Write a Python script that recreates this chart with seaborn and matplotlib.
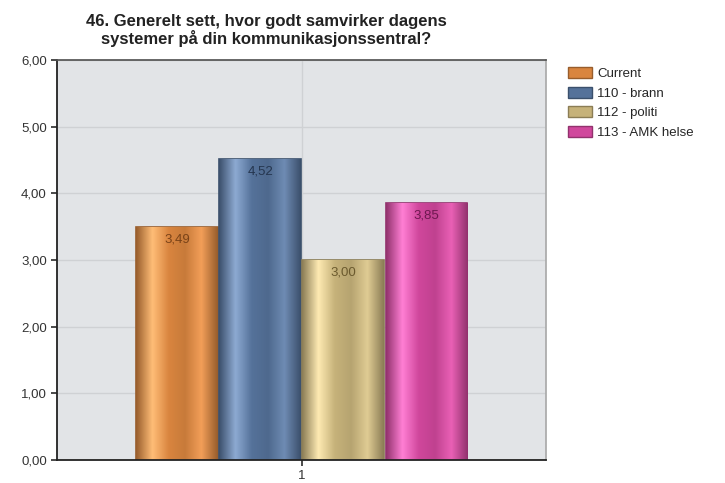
import pandas as pd
import seaborn as sns
import matplotlib.pyplot as plt
import numpy as np
from matplotlib.colors import LinearSegmentedColormap, to_rgb

sns.set_theme(style="whitegrid")
plt.rcParams['font.family'] = ['Liberation Sans', 'DejaVu Sans']

# data
series = ["Current", "110 - brann", "112 - politi", "113 - AMK helse"]
values = [3.49, 4.52, 3.00, 3.85]
group = ["1", "1", "1", "1"]
colors = ["#d9853f", "#55729a", "#c6b27a", "#d0479c"]
label_colors = ["#7a4318", "#25364f", "#6b5a2e", "#6e1850"]

df = pd.DataFrame({"grupo": group, "serie": series, "valor": values})

fig = plt.figure(figsize=(7.25, 4.83), dpi=100)
ax = fig.add_axes([0.079, 0.048, 0.674, 0.828])
ax.set_facecolor("#e2e4e7")

sns.barplot(data=df, x="grupo", y="valor", hue="serie", hue_order=series,
            palette=colors, width=0.68, ax=ax, legend=True, saturation=1,
            edgecolor="none", gap=0.02)

# sombreado tipo cilindro en cada barra
for patch, c in zip(ax.patches[:len(series)], colors):
    base = np.array(to_rgb(c))
    light = np.clip(base + 0.22, 0, 1)
    dark = base * 0.7
    cmap = LinearSegmentedColormap.from_list("g", [dark, light, base, base * 0.92, np.clip(base + 0.1, 0, 1), dark])
    x0, y0 = patch.get_x(), patch.get_y()
    w, h = patch.get_width(), patch.get_height()
    grad = np.linspace(0, 1, 256).reshape(1, -1)
    im = ax.imshow(grad, cmap=cmap, aspect="auto", extent=[x0, x0 + w, y0, y0 + h], zorder=2)
    im.set_clip_path(patch)
    patch.set_edgecolor(tuple(dark))
    patch.set_linewidth(1.2)

for patch, v, lc in zip(ax.patches[:len(series)], values, label_colors):
    ax.text(patch.get_x() + patch.get_width() / 2, v - 0.1, f"{v:.2f}".replace(".", ","),
            ha="center", va="top", fontsize=9.5, color=lc, zorder=5)

ax.set_xlim(-0.5, 0.5)
ax.set_ylim(0, 6)
ax.set_yticks(np.arange(0, 7, 1))
ax.set_yticklabels([f"{t:.2f}".replace(".", ",") for t in np.arange(0, 7, 1)], fontsize=9.5, color="#333333")
ax.set_xticks([0])
ax.set_xticklabels(["1"], fontsize=9.5, color="#333333")
ax.tick_params(axis="both", length=4, color="#333333", direction="out", left=True, bottom=True)
ax.set_xlabel("")
ax.set_ylabel("")
ax.grid(True, color="#cfd1d4", linewidth=1)
ax.set_axisbelow(True)
for s in ["left", "bottom"]:
    ax.spines[s].set_color("#222222")
    ax.spines[s].set_linewidth(1.3)
ax.spines["top"].set_color("#555555")
ax.spines["right"].set_color("#aaaaaa")

handles, labels = ax.get_legend_handles_labels()
for hnd, c in zip(handles, colors):
    hnd.set_edgecolor(tuple(np.array(to_rgb(c)) * 0.7))
ax.legend(handles, labels, loc="upper left", bbox_to_anchor=(1.035, 0.995), frameon=False,
          fontsize=9.5, handlelength=1.8, handleheight=0.9, labelspacing=0.5,
          handletextpad=0.4, borderaxespad=0)

fig.text(0.367, 0.972, "46. Generelt sett, hvor godt samvirker dagens\nsystemer på din kommunikasjonssentral?",
         ha="center", va="top", fontsize=12, fontweight="bold", color="#222222", linespacing=1.1)

fig.savefig("out.png", dpi=100, facecolor="white")
